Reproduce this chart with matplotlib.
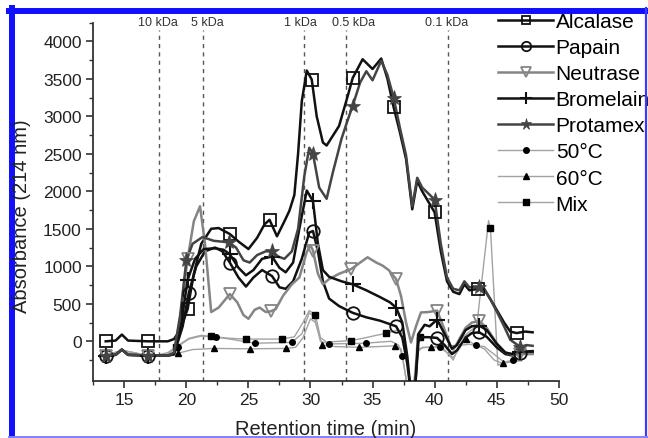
import matplotlib
matplotlib.use('Agg')
import matplotlib.pyplot as plt
from matplotlib.lines import Line2D

plt.rcParams['font.family'] = ['Liberation Sans', 'DejaVu Sans']

# retention time (min) and absorbance (214 nm)
alc_t = [13.5, 14.3, 14.8, 15.3, 16.9, 18.5, 19.0, 19.5, 20.1, 20.6, 21.2, 22.0, 22.6, 23.5, 24.2,
         25.0, 25.7, 26.3, 26.7, 27.3, 27.9, 28.3, 28.7, 29.0, 29.3, 29.7, 30.1, 30.5, 31.0, 31.3,
         32.3, 33.0, 33.4, 34.2, 35.0, 35.7, 36.2, 36.7, 37.2, 37.7, 38.2, 38.6, 39.0, 40.0, 40.5,
         41.0, 41.5, 42.0, 42.4, 42.8, 43.5, 44.0, 44.5, 45.0, 45.6, 46.1, 46.6, 47.3, 47.9]
alc_a = [0, 10, 90, 10, 0, 0, 30, 150, 430, 900, 1300, 1500, 1510, 1430, 1330,
         1230, 1380, 1560, 1620, 1400, 1600, 1740, 1950, 2500, 3200, 3610, 3490, 3000, 2650, 2610,
         2870, 3270, 3510, 3760, 3630, 3770, 3500, 3120, 2790, 2430, 1760, 2140, 2000, 1720, 1200,
         800, 660, 630, 760, 680, 700, 690, 560, 420, 250, 130, 110, 130, 120]

pap_t = [13.5, 14.3, 14.8, 15.3, 16.9, 18.5, 19.0, 19.7, 20.2, 20.8, 21.5, 22.3, 22.9, 23.5, 24.2,
         24.8, 25.4, 26.1, 26.9, 27.5, 28.0, 28.6, 29.3, 29.9, 30.2, 30.6, 31.0, 31.5, 32.3, 33.4,
         34.5, 35.6, 36.9, 37.4, 37.8, 38.1, 38.4, 38.7, 39.0, 39.5, 40.2, 40.8, 41.4, 41.8, 42.5,
         43.0, 43.6, 44.2, 45.0, 45.7, 46.3, 46.9, 47.9]
pap_a = [-190, -180, -110, -180, -190, -190, -175, 200, 650, 1000, 1200, 1250, 1200, 1050, 850,
         730, 850, 950, 870, 720, 700, 800, 1100, 1450, 1470, 1200, 800, 570, 470, 380,
         320, 275, 200, 50, -300, -700, -700, 0, 55, 55, 45, -50, -170, -120, 50,
         110, 120, 60, -80, -170, -190, -150, -150]

neu_t = [13.5, 14.3, 14.8, 15.3, 16.9, 18.5, 19.0, 19.5, 20.1, 20.6, 21.1, 21.5, 22.0, 22.6, 23.5,
         24.1, 24.6, 25.0, 25.5, 25.9, 26.4, 26.8, 27.2, 27.8, 28.5, 29.1, 29.7, 30.0, 30.2, 30.6,
         31.0, 31.5, 32.3, 33.3, 34.0, 34.6, 35.3, 35.8, 36.3, 36.9, 37.3, 37.7, 38.1, 38.5, 38.9,
         39.5, 40.2, 40.7, 41.3, 41.7, 42.5, 43.0, 43.6, 44.2, 45.0, 45.7, 46.3, 46.9, 47.9]
neu_a = [-190, -180, -110, -180, -190, -190, -170, 300, 1100, 1600, 1800, 1300, 390, 450, 630,
         520, 350, 300, 420, 450, 390, 400, 430, 610, 760, 850, 1190, 1280, 1210, 900,
         760, 830, 900, 965, 1050, 1120, 1050, 1010, 950, 830, 600, 250, -15, 200, 385,
         390, 410, 200, -70, -60, 180, 250, 270, 180, -30, -150, -180, -170, -170]

bro_t = [13.5, 14.3, 14.8, 15.3, 16.9, 18.5, 19.0, 19.6, 20.1, 20.7, 21.4, 22.3, 23.0, 23.5, 24.2,
         24.8, 25.4, 26.1, 26.9, 27.5, 28.0, 28.6, 29.1, 29.7, 30.2, 30.6, 31.0, 31.5, 32.5, 33.4,
         34.5, 35.6, 36.4, 36.9, 37.4, 37.8, 38.1, 38.4, 38.7, 39.2, 39.6, 40.2, 40.8, 41.4, 41.8,
         42.5, 43.0, 43.6, 44.2, 45.0, 45.7, 46.3, 46.9, 47.9]
bro_a = [-190, -180, -110, -180, -190, -190, -170, 250, 820, 1100, 1230, 1240, 1220, 1160, 980,
         880, 950, 1100, 1130, 980, 920, 1050, 1500, 2010, 1870, 1300, 950, 860, 800, 760,
         680, 590, 520, 450, 250, -200, -700, -700, 100, 220, 200, 290, 100, -100, -50,
         150, 200, 210, 150, -30, -150, -170, -140, -130]

pro_t = [13.5, 14.3, 14.8, 15.3, 16.9, 18.5, 19.0, 19.5, 20.0, 20.5, 21.3, 22.2, 23.4, 24.0, 24.6,
         25.1, 25.7, 26.4, 26.9, 27.4, 27.9, 28.5, 29.0, 29.5, 29.9, 30.2, 30.7, 31.3, 31.8, 32.5,
         33.0, 33.4, 34.0, 34.5, 35.0, 35.7, 36.2, 36.7, 37.2, 37.7, 38.2, 38.6, 39.0, 40.0, 40.5,
         41.0, 41.5, 42.0, 42.4, 42.8, 43.6, 44.0, 44.5, 45.0, 45.6, 46.1, 46.9, 47.4, 47.9]
pro_a = [-190, -180, -110, -180, -190, -190, -150, 350, 1080, 1300, 1390, 1340, 1320, 1250, 1080,
         1050, 1150, 1200, 1200, 1130, 1100, 1200, 1500, 2200, 2580, 2500, 2050, 1900, 2250, 2700,
         2950, 3140, 3450, 3600, 3480, 3740, 3550, 3250, 2850, 2480, 1800, 2180, 2050, 1890, 1300,
         850, 700, 680, 800, 720, 720, 700, 560, 400, 200, 20, -75, -50, -60]

c50_t = [13.5, 14.8, 16.9, 17.5, 18.5, 19.3, 20.2, 21.2, 22.4, 23.5, 25.5, 27.0, 28.5, 29.3, 29.9,
         30.3, 30.8, 31.5, 33.0, 34.5, 35.6, 36.5, 37.1, 37.4, 37.9, 38.3, 38.7, 39.3, 40.4, 41.0,
         41.5, 42.2, 42.8, 43.3, 44.0, 45.0, 45.6, 46.3, 47.0]
c50_a = [-190, -120, -190, -190, -170, -70, 30, 70, 55, 30, -25, -20, -15, 100, 380,
         330, 0, -35, -30, -25, -10, 0, -50, -190, -700, -700, -100, -80, -80, -150,
         -220, -50, -40, -55, -70, -200, -280, -250, -230]

c60_t = [13.5, 14.8, 16.9, 17.5, 18.5, 19.3, 20.5, 22.2, 25.1, 28.0, 28.8, 29.4, 30.0, 30.4, 30.95,
         32.0, 33.9, 35.5, 36.8, 37.3, 37.7, 38.2, 38.6, 39.0, 39.7, 40.5, 41.0, 41.5, 42.0, 42.5,
         43.3, 44.0, 44.8, 45.5, 46.2, 47.0]
c60_a = [-190, -120, -190, -200, -190, -160, -110, -95, -100, -95, -80, 50, 300, 250, -50,
         -70, -80, -70, -60, -100, -500, -700, -150, -80, -80, -60, -150, -250, -50, 30,
         -50, -100, -250, -295, -270, -260]

mix_t = [13.5, 14.8, 16.9, 17.5, 18.5, 19.2, 20.2, 21.2, 21.95, 23.5, 24.8, 26.5, 27.7, 28.7, 29.4,
         29.9, 30.4, 30.8, 31.3, 32.3, 33.3, 34.5, 35.3, 36.1, 37.0, 37.5, 37.9, 38.3, 38.6, 38.8,
         39.5, 40.2, 40.8, 41.4, 42.0, 42.6, 43.4, 44.35, 44.5, 45.1, 45.5, 46.3, 47.0]
mix_a = [-190, -120, -190, -190, -150, -70, 40, 80, 65, 40, 30, 30, 30, 60, 250,
         410, 355, 50, -10, 0, 10, 50, 80, 105, 150, 100, -400, -700, 50, 55,
         60, 50, -50, -150, 0, 100, 210, 1610, 1510, -320, -290, -270, -240]

# symbol positions
alc_mt = [13.5, 16.9, 20.1, 23.5, 26.7, 30.1, 33.4, 36.7, 40.0, 43.5, 46.6]
alc_ma = [0, 0, 430, 1430, 1620, 3490, 3510, 3120, 1720, 700, 110]
pap_mt = [13.5, 16.9, 20.2, 23.5, 26.9, 30.2, 33.4, 36.9, 40.2, 43.6, 46.9]
pap_ma = [-190, -190, 650, 1050, 870, 1470, 380, 200, 45, 120, -150]
neu_mt = [13.5, 16.9, 20.1, 23.5, 26.8, 30.2, 33.3, 36.9, 40.2, 43.6, 46.9]
neu_ma = [-190, -190, 1100, 630, 400, 1210, 965, 830, 410, 270, -170]
bro_mt = [13.5, 16.9, 20.1, 23.5, 26.9, 30.2, 33.4, 36.9, 40.2, 43.6, 46.9]
bro_ma = [-190, -190, 820, 1160, 1130, 1870, 760, 450, 290, 210, -140]
pro_mt = [13.5, 16.9, 20.0, 23.4, 26.9, 30.2, 33.4, 36.7, 40.0, 43.6, 46.9]
pro_ma = [-190, -190, 1080, 1320, 1200, 2500, 3140, 3250, 1890, 720, -75]
c50_mt = [19.3, 22.4, 25.5, 28.5, 31.5, 34.5, 37.4, 40.4, 43.3, 46.3]
c50_ma = [-70, 55, -25, -15, -35, -25, -190, -80, -55, -250]
c60_mt = [19.3, 22.2, 25.1, 28.0, 30.95, 33.9, 36.8, 39.7, 42.5, 45.5]
c60_ma = [-160, -95, -100, -95, -50, -80, -60, -80, 30, -295]
mix_mt = [19.2, 21.95, 24.8, 27.7, 30.4, 33.3, 36.1, 38.8, 44.5]
mix_ma = [-70, 65, 30, 30, 355, 10, 105, 55, 1510]

kda_x = [17.8, 21.3, 29.5, 32.9, 41.1]
kda_label_x = [17.7, 21.7, 29.2, 33.5, 41.0]
kda_labels = ['10 kDa', '5 kDa', '1 kDa', '0.5 kDa', '0.1 kDa']

W, H = 648, 439
fig = plt.figure(figsize=(W / 100, H / 100), dpi=100)
ax = fig.add_axes([93.3 / W, 1 - 381.7 / H, (558.7 - 93.3) / W, (381.7 - 23.5) / H])

for x in kda_x:
    ax.axvline(x, ymin=0, ymax=0.98, color='#555555', lw=1.0, ls=(0, (3, 3)), zorder=1)
for x, s in zip(kda_label_x, kda_labels):
    ax.text(x, 4215, s, ha='center', va='baseline', fontsize=9, color='#333333', clip_on=False)

thin = '#a3a3a3'
ax.plot(c60_t, c60_a, color=thin, lw=1.0, zorder=2)
ax.plot(c60_mt, c60_ma, '^', color='black', ms=4, ls='none', zorder=3)
ax.plot(c50_t, c50_a, color=thin, lw=1.0, zorder=2)
ax.plot(c50_mt, c50_ma, 'o', color='black', ms=4, ls='none', zorder=3)
ax.plot(mix_t, mix_a, color=thin, lw=1.0, zorder=2)
ax.plot(mix_mt, mix_ma, 's', color='black', ms=4, ls='none', zorder=3)

series = [
    ('Alcalase', alc_t, alc_a, alc_mt, alc_ma, '#111111', 's', dict(mfc='none', ms=8, mew=1.3)),
    ('Papain', pap_t, pap_a, pap_mt, pap_ma, '#111111', 'o', dict(mfc='none', ms=9, mew=1.3)),
    ('Neutrase', neu_t, neu_a, neu_mt, neu_ma, '#858585', 'v', dict(mfc='none', ms=9, mew=1.3)),
    ('Bromelain', bro_t, bro_a, bro_mt, bro_ma, '#111111', '+', dict(ms=11, mew=1.5)),
    ('Protamex', pro_t, pro_a, pro_mt, pro_ma, '#444444', '*', dict(ms=11, mew=0.5)),
]
handles = []
for name, t, a, mt, ma, col, mk, kw in series:
    ax.plot(t, a, color=col, lw=1.8, zorder=4)
    ax.plot(mt, ma, mk, color=col, ls='none', zorder=5, **kw)
    handles.append(Line2D([], [], color=col, lw=1.8, marker=mk,
                          **{k: (v * 0.75 if k == 'ms' else v) for k, v in kw.items()}))
handles.append(Line2D([], [], color=thin, lw=1.0, marker='o', mfc='black', mec='black', ms=4))
handles.append(Line2D([], [], color=thin, lw=1.0, marker='^', mfc='black', mec='black', ms=4))
handles.append(Line2D([], [], color=thin, lw=1.0, marker='s', mfc='black', mec='black', ms=4))
labels = [s[0] for s in series] + ['50°C', '60°C', 'Mix']

ax.legend(handles, labels, loc='upper left', bbox_to_anchor=(498 / W, 1 - 13 / H),
          bbox_transform=fig.transFigure, frameon=False, fontsize=15, handlelength=2.65,
          handletextpad=0.12, labelspacing=0.34, borderpad=0, borderaxespad=0)

ax.set_xlim(12.5, 50)
ax.set_ylim(-525, 4250)
ax.set_xticks([15, 20, 25, 30, 35, 40, 45, 50])
ax.set_xticks([12.5, 17.5, 22.5, 27.5, 32.5, 37.5, 42.5, 47.5], minor=True)
ax.set_yticks(range(0, 4001, 500))
ax.set_yticks([-250, 250, 750, 1250, 1750, 2250, 2750, 3250, 3750, 4250], minor=True)
for side in ['top', 'right']:
    ax.spines[side].set_visible(False)
for side in ['left', 'bottom']:
    ax.spines[side].set_linewidth(1.3)
    ax.spines[side].set_color('#333333')
ax.tick_params(which='major', direction='out', length=5, width=1.2, labelsize=12.5,
               colors='#333333', labelcolor='#222222', pad=3.3)
ax.tick_params(which='minor', direction='out', length=3, width=1.0, colors='#333333')

fig.text(22 / W, 1 - 216 / H, 'Absorbance (214 nm)', rotation=90, ha='center', va='center',
         fontsize=14.5, color='#222222')
fig.text(326 / W, 1 - 430 / H, 'Retention time (min)', ha='center', va='center',
         fontsize=14.5, color='#222222')

# blue frame around the picture
blue = '#1010ff'
fig.add_artist(Line2D([12 / W, 12 / W], [0, 1 - 9 / H], color=blue, lw=4.3, transform=fig.transFigure))
fig.add_artist(Line2D([9 / W, 1], [1 - 12 / H, 1 - 12 / H], color=blue, lw=4.3, transform=fig.transFigure))
fig.add_artist(Line2D([646 / W, 646 / W], [0, 1 - 9 / H], color='#3a3aff', lw=1.6, transform=fig.transFigure))
fig.add_artist(Line2D([9 / W, 1], [1.5 / H, 1.5 / H], color='#8080ff', lw=1.4, transform=fig.transFigure))

fig.savefig('out.png', dpi=100)
